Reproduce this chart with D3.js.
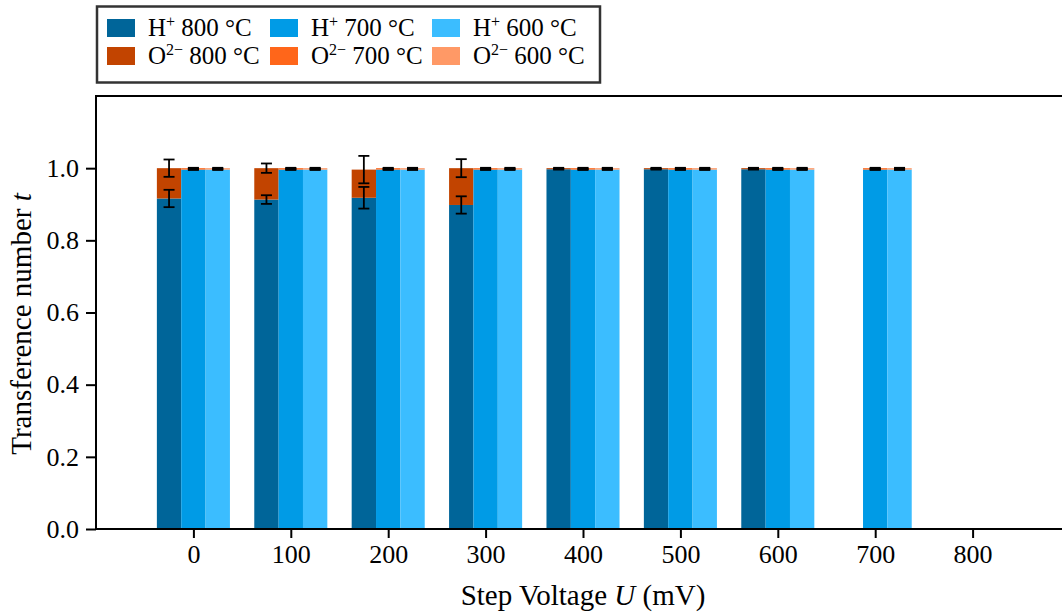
<!DOCTYPE html>
<html>
<head>
<meta charset="utf-8">
<script src="https://cdn.jsdelivr.net/npm/d3@7"></script>
<style>
  html, body { margin: 0; padding: 0; background: #fff; }
  svg { display: block; font-family: "Liberation Serif", "DejaVu Serif", serif; }
</style>
</head>
<body>
<svg id="chart" width="1062" height="614"></svg>
<script>
// Step voltages (mV)
const voltages = [0, 100, 200, 300, 400, 500, 600, 700, 800];

// Proton transference numbers and errors per temperature
const h800 = [0.916, 0.913, 0.918, 0.898, 0.997, 0.997, 0.997, 0, 0];
const h800Err = [0.024, 0.012, 0.030, 0.024, 0.001, 0.001, 0.001, 0, 0];
const h700 = [0.996, 0.996, 0.996, 0.996, 0.996, 0.996, 0.996, 0.996, 0];
const h700Err = [0.001, 0.001, 0.001, 0.001, 0.001, 0.001, 0.001, 0.001, 0];
const h600 = [0.996, 0.996, 0.996, 0.996, 0.996, 0.996, 0.996, 0.996, 0];
const h600Err = [0.001, 0.001, 0.001, 0.001, 0.001, 0.001, 0.001, 0.001, 0];

// Oxide-ion transference numbers and errors per temperature
const o800 = [0.084, 0.087, 0.078, 0.102, 0.003, 0.003, 0.003, 0, 0];
const o800Err = [0.024, 0.013, 0.038, 0.025, 0.001, 0.001, 0.001, 0, 0];
const o700 = [0.004, 0.004, 0.004, 0.004, 0.004, 0.004, 0.004, 0.004, 0];
const o700Err = [0.001, 0.001, 0.001, 0.001, 0.001, 0.001, 0.001, 0.001, 0];
const o600 = [0.004, 0.004, 0.004, 0.004, 0.004, 0.004, 0.004, 0.004, 0];
const o600Err = [0.001, 0.001, 0.001, 0.001, 0.001, 0.001, 0.001, 0.001, 0];

const yTicks = [0, 0.2, 0.4, 0.6, 0.8, 1.0];

const groups = [
  { offset: -25, h: h800, hErr: h800Err, o: o800, oErr: o800Err, hColor: "#006599", oColor: "#c24400", label: "800" },
  { offset: 0,   h: h700, hErr: h700Err, o: o700, oErr: o700Err, hColor: "#009be6", oColor: "#ff661a", label: "700" },
  { offset: 25,  h: h600, hErr: h600Err, o: o600, oErr: o600Err, hColor: "#3bbdff", oColor: "#ff9966", label: "600" }
];
const barWidth = 25; // mV

const svg = d3.select("#chart");
const x = d3.scaleLinear().domain([-100, 900]).range([96, 1070]);
const y = d3.scaleLinear().domain([0, 1.2]).range([529, 96]);

const plot = svg.append("g");

// Stacked bars: H+ at the bottom, O2- on top
groups.forEach(g => {
  const gg = plot.append("g");
  voltages.forEach((v, i) => {
    const x0 = x(v + g.offset - barWidth / 2);
    const w = x(v + g.offset + barWidth / 2) - x0;
    gg.append("rect")
      .attr("x", x0).attr("width", w)
      .attr("y", y(g.h[i])).attr("height", y(0) - y(g.h[i]))
      .attr("fill", g.hColor);
    gg.append("rect")
      .attr("x", x0).attr("width", w)
      .attr("y", y(g.h[i] + g.o[i])).attr("height", y(g.h[i]) - y(g.h[i] + g.o[i]))
      .attr("fill", g.oColor);
  });
});

// Error bars
function errorBar(cx, val, err) {
  const cap = 5.5;
  const eb = plot.append("g").attr("stroke", "#000").attr("stroke-width", 1.8);
  eb.append("line").attr("x1", cx).attr("x2", cx).attr("y1", y(val - err)).attr("y2", y(val + err));
  eb.append("line").attr("x1", cx - cap).attr("x2", cx + cap).attr("y1", y(val - err)).attr("y2", y(val - err));
  eb.append("line").attr("x1", cx - cap).attr("x2", cx + cap).attr("y1", y(val + err)).attr("y2", y(val + err));
}
groups.forEach(g => {
  voltages.forEach((v, i) => {
    const cx = x(v + g.offset);
    errorBar(cx, g.h[i], g.hErr[i]);
    errorBar(cx, g.h[i] + g.o[i], g.oErr[i]);
  });
});

// Axes
const xAxis = svg.append("g").attr("transform", `translate(0,${y(0)})`)
  .call(d3.axisBottom(x).tickValues(voltages).tickFormat(d3.format("d")).tickSize(9).tickPadding(7));
const yAxis = svg.append("g").attr("transform", `translate(${x(-100)},0)`)
  .call(d3.axisLeft(y).tickValues(yTicks).tickFormat(d3.format(".1f")).tickSize(10).tickPadding(7));
[xAxis, yAxis].forEach(a => {
  a.select(".domain").remove();
  a.selectAll(".tick line").attr("stroke", "#000").attr("stroke-width", 2);
  a.selectAll(".tick text").attr("fill", "#000").style("font-size", "26px")
    .style("font-family", '"Liberation Serif", serif');
});

// Frame
svg.append("path")
  .attr("d", `M${x(900)},${y(1.2)}H${x(-100)}V${y(0)}H${x(900)}`)
  .attr("fill", "none").attr("stroke", "#000").attr("stroke-width", 2);

// Axis titles
const xt = svg.append("text").attr("x", (x(-100) + x(900)) / 2).attr("y", 605)
  .attr("text-anchor", "middle").style("font-size", "29px");
xt.append("tspan").text("Step Voltage ");
xt.append("tspan").attr("font-style", "italic").text("U");
xt.append("tspan").text(" (mV)");

const yt = svg.append("text")
  .attr("transform", `translate(31,324) rotate(-90)`)
  .attr("text-anchor", "middle").style("font-size", "29px");
yt.append("tspan").text("Transference number ");
yt.append("tspan").attr("font-style", "italic").text("t");

// Legend
const legend = svg.append("g");
legend.append("rect").attr("x", 97).attr("y", 6.5).attr("width", 503).attr("height", 76)
  .attr("fill", "#fff").attr("stroke", "#333").attr("stroke-width", 2.5);
const colX = [107, 270, 432];
const rowY = [19, 47];
groups.forEach((g, c) => {
  [["H", "+", g.hColor], ["O", "2\u2212", g.oColor]].forEach((item, r) => {
    legend.append("rect").attr("x", colX[c]).attr("y", rowY[r]).attr("width", 28).attr("height", 18)
      .attr("fill", item[2]);
    const t = legend.append("text").attr("x", colX[c] + 41).attr("y", rowY[r] + 17)
      .style("font-size", "25px");
    t.append("tspan").text(item[0]);
    t.append("tspan").attr("dy", -9).style("font-size", "16px").text(item[1]);
    t.append("tspan").attr("dy", 9).text(" " + g.label + " \u00B0C");
  });
});
</script>
</body>
</html>
